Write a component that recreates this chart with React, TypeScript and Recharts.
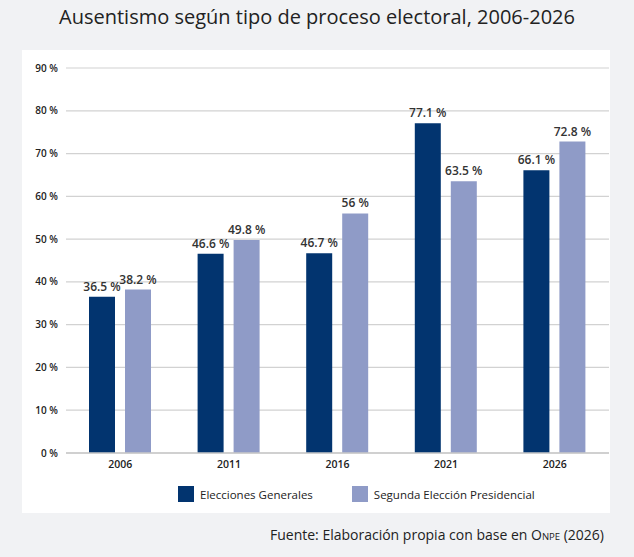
import React from "react";
import { BarChart, Bar, XAxis, YAxis, CartesianGrid, LabelList, Legend } from "recharts";

const years = ["2006", "2011", "2016", "2021", "2026"];
const generales = [36.5, 46.6, 46.7, 77.1, 66.1];
const segunda = [38.2, 49.8, 56, 63.5, 72.8];
const yTicks = [0, 10, 20, 30, 40, 50, 60, 70, 80, 90];
const seriesNames = ["Elecciones Generales", "Segunda Elección Presidencial"];
const seriesColors = ["#02346f", "#8f9bc7"];

const data = years.map((y, i) => ({ year: y, gen: generales[i], seg: segunda[i] }));

const FONT = "'Open Sans', 'DejaVu Sans', sans-serif";

const fmt = (v: any) => `${v} %`;

const BarLabel = (props: any) => {
  const { x, y, width, value } = props;
  return (
    <text
      x={Number(x) + Number(width) / 2}
      y={Number(y) - 6}
      textAnchor="middle"
      fill="#333"
      fontSize={12}
      fontWeight={600}
      fontFamily={FONT}
    >
      {fmt(value)}
    </text>
  );
};

const LegendContent = (props: any) => {
  const payload = props.payload || [];
  return (
    <div style={{ display: "flex", alignItems: "center", height: 20, paddingLeft: 156, fontFamily: FONT, fontSize: 11.5, fontWeight: 500, color: "#222" }}>
      {payload.map((p: any, i: number) => (
        <div key={i} style={{ display: "flex", alignItems: "center", marginRight: i === 0 ? 39 : 0 }}>
          <div style={{ width: 16, height: 16, background: p.color, marginRight: 6 }} />
          <span>{p.value}</span>
        </div>
      ))}
    </div>
  );
};

export default function App() {
  return (
    <div style={{ position: "absolute", left: 0, top: 0, width: 634, height: 557, background: "#f1f2f4", fontFamily: FONT }}>
      <div style={{ position: "absolute", top: 3, left: 0, width: 634, textAlign: "center", fontSize: 20, color: "#222", fontWeight: 400 }}>
        Ausentismo según tipo de proceso electoral, 2006-2026
      </div>
      <div style={{ position: "absolute", left: 22, top: 50, width: 588, height: 463, background: "#ffffff" }}>
        <BarChart
          width={588}
          height={463}
          data={data}
          margin={{ top: 18, right: 1, left: 0, bottom: 9 }}
          barGap={10}
          barSize={26}
        >
          <CartesianGrid vertical={false} stroke="#d2d2d2" strokeWidth={1.2} />
          <XAxis
            dataKey="year"
            height={31}
            tickLine={false}
            axisLine={{ stroke: "#c8c8c8", strokeWidth: 1.5 }}
            tick={{ fill: "#222", fontSize: 10.5, fontWeight: 600, fontFamily: FONT }}
          />
          <YAxis
            width={44}
            domain={[0, 90]}
            ticks={yTicks}
            tickFormatter={fmt}
            axisLine={false}
            tickLine={false}
            tick={{ fill: "#222", fontSize: 10, fontWeight: 600, fontFamily: FONT }}
          />
          <Legend verticalAlign="bottom" content={<LegendContent />} />
          <Bar dataKey="gen" name={seriesNames[0]} fill={seriesColors[0]} isAnimationActive={false}>
            <LabelList dataKey="gen" content={<BarLabel />} />
          </Bar>
          <Bar dataKey="seg" name={seriesNames[1]} fill={seriesColors[1]} isAnimationActive={false}>
            <LabelList dataKey="seg" content={<BarLabel />} />
          </Bar>
        </BarChart>
      </div>
      <div style={{ position: "absolute", right: 30, top: 525, fontSize: 14, color: "#222", whiteSpace: "nowrap" }}>
        Fuente: Elaboración propia con base en O<span style={{ fontSize: 9.5 }}>NPE</span> (2026)
      </div>
    </div>
  );
}
